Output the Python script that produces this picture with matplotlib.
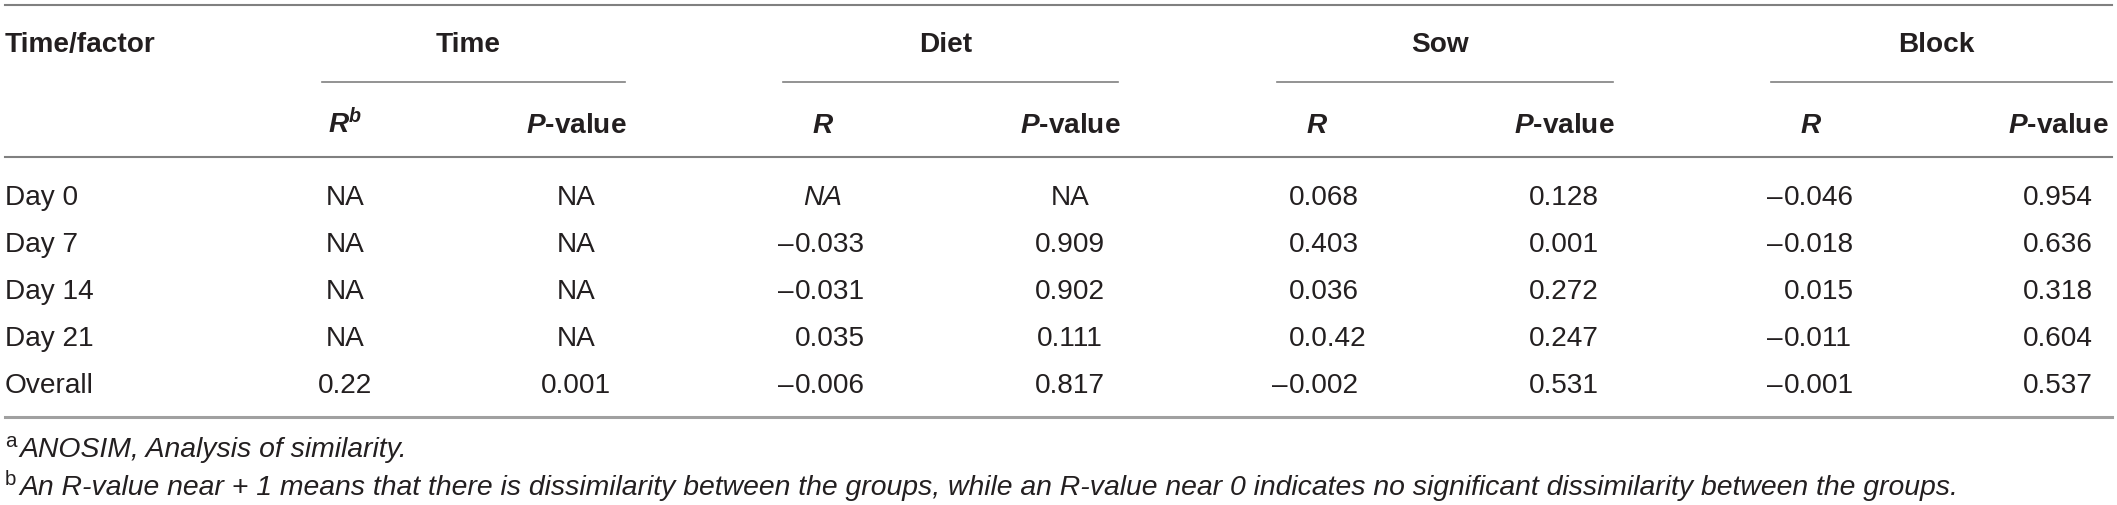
import matplotlib
matplotlib.use('Agg')
import matplotlib.pyplot as plt

plt.rcParams['font.family'] = ['Liberation Sans', 'DejaVu Sans']
plt.rcParams['mathtext.fontset'] = 'custom'
plt.rcParams['mathtext.rm'] = 'Liberation Sans'
plt.rcParams['mathtext.it'] = 'Liberation Sans:italic'
plt.rcParams['mathtext.bf'] = 'Liberation Sans:bold'
plt.rcParams['mathtext.bfit'] = 'Liberation Sans:italic:bold'

# ── table content ───────────────────────────────────────────
ROWS    = ["Day 0", "Day 7", "Day 14", "Day 21", "Overall"]
GROUPS  = ["Time", "Diet", "Sow", "Block"]
time_r  = ["NA", "NA", "NA", "NA", "0.22"]
time_p  = ["NA", "NA", "NA", "NA", "0.001"]
diet_r  = ["NA", "–0.033", "–0.031", "0.035", "–0.006"]
diet_p  = ["NA", "0.909", "0.902", "0.111", "0.817"]
sow_r   = ["0.068", "0.403", "0.036", "0.0.42", "–0.002"]
sow_p   = ["0.128", "0.001", "0.272", "0.247", "0.531"]
block_r = ["–0.046", "–0.018", "0.015", "–0.011", "–0.001"]
block_p = ["0.954", "0.636", "0.318", "0.604", "0.537"]
FOOT_A = "ANOSIM, Analysis of similarity."
FOOT_B = ("An R-value near + 1 means that there is dissimilarity between the "
          "groups, while an R-value near 0 indicates no significant "
          "dissimilarity between the groups.")

W, H = 2117, 506
PX = 0.72           # px -> pt at dpi 100
TXT = '#231f20'
RULE = '#808080'

fig = plt.figure(figsize=(W / 100, H / 100), dpi=100)
ax = fig.add_axes([0, 0, 1, 1])
ax.set_xlim(0, W)
ax.set_ylim(H, 0)
ax.axis('off')

fs = 28 * PX
fs_foot = 28.4 * PX

# rules
ax.plot([5, 2112], [6, 6], color=RULE, lw=1.5)
ax.plot([5, 2112], [158, 158], color=RULE, lw=1.5)
ax.plot([5, 2112], [418, 418], color='#a0a0a0', lw=2.2)
spans = [(322, 625), (783, 1118), (1277, 1613), (1771, 2112)]
for x0, x1 in spans:
    ax.plot([x0, x1], [83, 83], color=RULE, lw=1.2)

# header
ax.text(5, 52, "Time/factor", fontsize=fs, fontweight='bold', color=TXT,
        ha='left', va='baseline')
for (x0, x1), g in zip(spans, GROUPS):
    ax.text((x0 + x1) / 2 - 5, 52, g, fontsize=fs, fontweight='bold',
            color=TXT, ha='center', va='baseline')

r_cx = [345, 823, 1317, 1811]
p_cx = [576, 1070, 1564, 2058]
ax.text(r_cx[0], 133, r"$\mathbfit{R}^{\mathbfit{b}}$", fontsize=fs,
        color=TXT, ha='center', va='baseline')
for cx in r_cx[1:]:
    ax.text(cx, 133, "R", fontsize=fs, fontweight='bold', style='italic',
            color=TXT, ha='center', va='baseline')
for cx in p_cx:
    ax.text(cx, 133, r"$\mathbfit{P}$-value", fontsize=fs,
            fontweight='bold', color=TXT, ha='center', va='baseline')

# body
base = [205, 252, 299, 346, 393]
for y, name in zip(base, ROWS):
    ax.text(5, y, name, fontsize=fs, color=TXT, ha='left', va='baseline')


def put_centered(vals, cx, italic_na=False):
    for y, v in zip(base, vals):
        st = 'italic' if (italic_na and v == "NA") else 'normal'
        ax.text(cx, y, v, fontsize=fs, color=TXT, ha='center',
                va='baseline', style=st)


def put_signed(vals, x0, cx, italic_na=False):
    # digits start at x0, minus sign hangs to the left
    for y, v in zip(base, vals):
        if v == "NA":
            st = 'italic' if italic_na else 'normal'
            ax.text(cx, y, v, fontsize=fs, color=TXT, ha='center',
                    va='baseline', style=st)
            continue
        if v.startswith("–"):
            ax.text(x0 - 1, y, "–", fontsize=fs, color=TXT, ha='right',
                    va='baseline')
            v = v[1:]
        ax.text(x0, y, v, fontsize=fs, color=TXT, ha='left', va='baseline')


put_centered(time_r, r_cx[0])
put_centered(time_p, p_cx[0])
put_signed(diet_r, 795, r_cx[1], italic_na=True)
put_centered(diet_p, p_cx[1])
put_signed(sow_r, 1289, r_cx[2])
put_centered(sow_p, p_cx[2])
put_signed(block_r, 1784, r_cx[3])
put_centered(block_p, p_cx[3])

# footnotes
ax.text(5, 447, "a", fontsize=fs_foot * 0.72, color=TXT, ha='left',
        va='baseline')
ax.text(19, 457, FOOT_A, fontsize=fs_foot, style='italic', color=TXT,
        ha='left', va='baseline')
ax.text(5, 485, "b", fontsize=fs_foot * 0.72, color=TXT, ha='left',
        va='baseline')
ax.text(19, 495, FOOT_B, fontsize=fs_foot, style='italic', color=TXT,
        ha='left', va='baseline')

fig.savefig("out.png", dpi=100)
